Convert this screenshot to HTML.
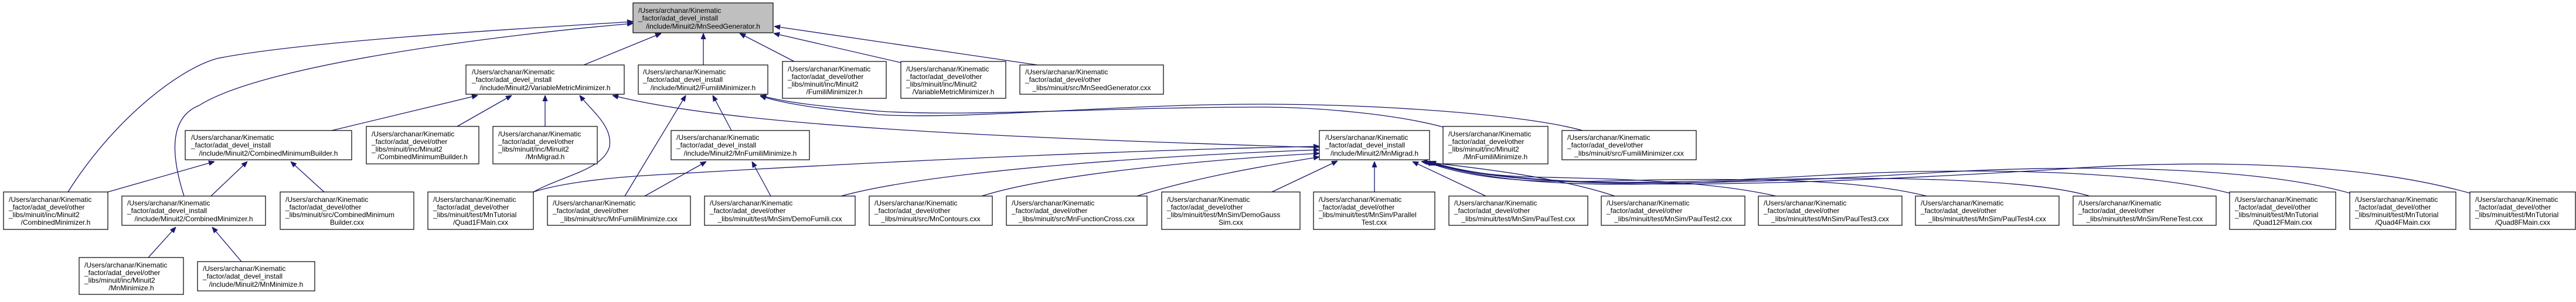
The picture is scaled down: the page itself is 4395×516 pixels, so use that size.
<!DOCTYPE html>
<html><head><meta charset="utf-8"><style>
html,body{margin:0;padding:0;background:#fff}
svg{display:block}
text{font-family:"Liberation Sans",Arial,sans-serif;font-size:12px;fill:#000}
.n{fill:#fff;stroke:#000;stroke-width:1.2}
.r{fill:#bfbfbf;stroke:#000;stroke-width:1.2}
.e{fill:none;stroke:#191970;stroke-width:1.3;marker-end:url(#a)}
</style></head><body>
<svg width="4395" height="516" viewBox="0 0 4395 516" xmlns="http://www.w3.org/2000/svg">
<defs><marker id="a" viewBox="0 0 10 10" refX="10" refY="5" markerWidth="10" markerHeight="10" markerUnits="userSpaceOnUse" orient="auto"><path d="M0,1 L10,5 L0,9 z" fill="#191970" stroke="#191970"/></marker></defs>

<!-- edges -->
<path class="e" d="M116,328 C190,210 300,120 370,100 C520,70 900,48 1080,37"/>
<path class="e" d="M314,335 C290,260 290,200 340,180 C450,110 850,60 1080,40"/>
<path class="e" d="M996,111 L1128,57"/>
<path class="e" d="M1200,111 L1200,57"/>
<path class="e" d="M1355,105 L1262,57"/>
<path class="e" d="M1537,107 L1320,57"/>
<path class="e" d="M1770,111 L1321,45"/>

<path class="e" d="M566,223 L815,163"/>
<path class="e" d="M780,216 L873,163"/>
<path class="e" d="M930,216 L930,163"/>
<path class="e" d="M910,328 C960,300 1030,290 1040,250 C1045,215 1010,190 989,163"/>
<path class="e" d="M2251,252 C1700,235 1250,215 1045,163"/>

<path class="e" d="M1248,223 L1216,163"/>
<path class="e" d="M1066,335 L1170,163"/>
<path class="e" d="M2462,217 C2380,195 2250,183 2150,183 C1900,183 1650,200 1500,190 C1400,182 1340,175 1297,163"/>
<path class="e" d="M2700,223 C2600,195 2350,178 2150,178 C1900,178 1650,205 1500,196 C1400,186 1340,178 1297,164"/>

<path class="e" d="M184,328 L366,276"/>
<path class="e" d="M360,335 L422,276"/>
<path class="e" d="M553,328 L496,276"/>
<path class="e" d="M253,440 L300,388"/>
<path class="e" d="M412,447 L362,388"/>
<path class="e" d="M1100,335 L1205,276"/>
<path class="e" d="M1315,335 L1283,276"/>

<path class="e" d="M910,328 C950,315 1020,305 1100,300 C1600,270 2000,255 2251,250"/>
<path class="e" d="M1435,335 C1600,290 2000,265 2251,256"/>
<path class="e" d="M1675,335 C1800,295 2100,270 2251,262"/>
<path class="e" d="M1940,335 C2050,300 2180,280 2251,268"/>
<path class="e" d="M2170,328 L2282,275"/>
<path class="e" d="M2345,328 L2345,276"/>
<path class="e" d="M2535,335 L2410,276"/>
<path class="e" d="M2755,335 C2650,300 2500,285 2425,276"/>
<path class="e" d="M3030,335 C2900,305 2700,305 2600,302 C2520,298 2470,288 2430,276"/>
<path class="e" d="M3287,335 C3150,300 2900,305 2700,310 C2560,312 2480,295 2432,276"/>
<path class="e" d="M3565,335 C3450,300 3100,300 2900,312 C2650,322 2520,305 2434,276"/>
<path class="e" d="M3804,330 C3650,290 3350,285 3100,300 C2800,318 2560,318 2436,276"/>
<path class="e" d="M4009,330 C3850,285 3550,280 3300,295 C2900,320 2580,322 2438,276"/>
<path class="e" d="M4214,330 C4000,270 3700,275 3500,290 C3000,320 2600,330 2440,276"/>

<!-- nodes -->
<g>
<rect class="r" x="1080" y="5" width="239" height="51"/>
<text x="1089" y="22">/Users/archanar/Kinematic</text><text x="1089" y="35">_factor/adat_devel_install</text><text x="1199.5" y="49" text-anchor="middle">/include/Minuit2/MnSeedGenerator.h</text>

<rect class="n" x="795" y="111" width="270" height="50"/>
<text x="805" y="127">/Users/archanar/Kinematic</text><text x="805" y="140">_factor/adat_devel_install</text><text x="930" y="154" text-anchor="middle">/include/Minuit2/VariableMetricMinimizer.h</text>

<rect class="n" x="1089" y="111" width="221" height="50"/>
<text x="1097" y="127">/Users/archanar/Kinematic</text><text x="1097" y="140">_factor/adat_devel_install</text><text x="1199.5" y="154" text-anchor="middle">/include/Minuit2/FumiliMinimizer.h</text>

<rect class="n" x="1335" y="105" width="177" height="63"/>
<text x="1344" y="122">/Users/archanar/Kinematic</text><text x="1344" y="135">_factor/adat_devel/other</text><text x="1344" y="148">_libs/minuit/inc/Minuit2</text><text x="1423.5" y="161" text-anchor="middle">/FumiliMinimizer.h</text>

<rect class="n" x="1537" y="105" width="179" height="63"/>
<text x="1546" y="122">/Users/archanar/Kinematic</text><text x="1546" y="135">_factor/adat_devel/other</text><text x="1546" y="148">_libs/minuit/inc/Minuit2</text><text x="1626.5" y="161" text-anchor="middle">/VariableMetricMinimizer.h</text>

<rect class="n" x="1740" y="111" width="245" height="50"/>
<text x="1749" y="127">/Users/archanar/Kinematic</text><text x="1749" y="140">_factor/adat_devel/other</text><text x="1862.5" y="154" text-anchor="middle">_libs/minuit/src/MnSeedGenerator.cxx</text>

<rect class="n" x="316" y="223" width="284" height="50"/>
<text x="326" y="239">/Users/archanar/Kinematic</text><text x="326" y="252">_factor/adat_devel_install</text><text x="458" y="266" text-anchor="middle">/include/Minuit2/CombinedMinimumBuilder.h</text>

<rect class="n" x="625" y="216" width="192" height="64"/>
<text x="634" y="233">/Users/archanar/Kinematic</text><text x="634" y="246">_factor/adat_devel/other</text><text x="634" y="259">_libs/minuit/inc/Minuit2</text><text x="721" y="272" text-anchor="middle">/CombinedMinimumBuilder.h</text>

<rect class="n" x="841" y="216" width="178" height="64"/>
<text x="850" y="233">/Users/archanar/Kinematic</text><text x="850" y="246">_factor/adat_devel/other</text><text x="850" y="259">_libs/minuit/inc/Minuit2</text><text x="930" y="272" text-anchor="middle">/MnMigrad.h</text>

<rect class="n" x="1145" y="223" width="236" height="50"/>
<text x="1154" y="239">/Users/archanar/Kinematic</text><text x="1154" y="252">_factor/adat_devel_install</text><text x="1263" y="266" text-anchor="middle">/include/Minuit2/MnFumiliMinimize.h</text>

<rect class="n" x="2251" y="223" width="188" height="50"/>
<text x="2261" y="239">/Users/archanar/Kinematic</text><text x="2261" y="252">_factor/adat_devel_install</text><text x="2345" y="266" text-anchor="middle">/include/Minuit2/MnMigrad.h</text>

<rect class="n" x="2462" y="216" width="179" height="64"/>
<text x="2471" y="233">/Users/archanar/Kinematic</text><text x="2471" y="246">_factor/adat_devel/other</text><text x="2471" y="259">_libs/minuit/inc/Minuit2</text><text x="2551.5" y="272" text-anchor="middle">/MnFumiliMinimize.h</text>

<rect class="n" x="2665" y="223" width="229" height="50"/>
<text x="2674" y="239">/Users/archanar/Kinematic</text><text x="2674" y="252">_factor/adat_devel/other</text><text x="2779.5" y="266" text-anchor="middle">_libs/minuit/src/FumiliMinimizer.cxx</text>

<rect class="n" x="6" y="328" width="178" height="64"/>
<text x="15" y="345">/Users/archanar/Kinematic</text><text x="15" y="358">_factor/adat_devel/other</text><text x="15" y="371">_libs/minuit/inc/Minuit2</text><text x="95" y="384" text-anchor="middle">/CombinedMinimizer.h</text>

<rect class="n" x="208" y="335" width="245" height="50"/>
<text x="217" y="351">/Users/archanar/Kinematic</text><text x="217" y="364">_factor/adat_devel_install</text><text x="330.5" y="378" text-anchor="middle">/include/Minuit2/CombinedMinimizer.h</text>

<rect class="n" x="478" y="328" width="228" height="64"/>
<text x="487" y="345">/Users/archanar/Kinematic</text><text x="487" y="358">_factor/adat_devel/other</text><text x="487" y="371">_libs/minuit/src/CombinedMinimum</text><text x="592" y="384" text-anchor="middle">Builder.cxx</text>

<rect class="n" x="730" y="328" width="180" height="64"/>
<text x="739" y="345">/Users/archanar/Kinematic</text><text x="739" y="358">_factor/adat_devel/other</text><text x="739" y="371">_libs/minuit/test/MnTutorial</text><text x="820" y="384" text-anchor="middle">/Quad1FMain.cxx</text>

<rect class="n" x="934" y="335" width="244" height="50"/>
<text x="943" y="351">/Users/archanar/Kinematic</text><text x="943" y="364">_factor/adat_devel/other</text><text x="1056" y="378" text-anchor="middle">_libs/minuit/src/MnFumiliMinimize.cxx</text>

<rect class="n" x="1202" y="335" width="257" height="50"/>
<text x="1211" y="351">/Users/archanar/Kinematic</text><text x="1211" y="364">_factor/adat_devel/other</text><text x="1330.5" y="378" text-anchor="middle">_libs/minuit/test/MnSim/DemoFumili.cxx</text>

<rect class="n" x="1483" y="335" width="210" height="50"/>
<text x="1492" y="351">/Users/archanar/Kinematic</text><text x="1492" y="364">_factor/adat_devel/other</text><text x="1588" y="378" text-anchor="middle">_libs/minuit/src/MnContours.cxx</text>

<rect class="n" x="1717" y="335" width="240" height="50"/>
<text x="1726" y="351">/Users/archanar/Kinematic</text><text x="1726" y="364">_factor/adat_devel/other</text><text x="1837" y="378" text-anchor="middle">_libs/minuit/src/MnFunctionCross.cxx</text>

<rect class="n" x="1982" y="328" width="236" height="64"/>
<text x="1991" y="345">/Users/archanar/Kinematic</text><text x="1991" y="358">_factor/adat_devel/other</text><text x="1991" y="371">_libs/minuit/test/MnSim/DemoGauss</text><text x="2100" y="384" text-anchor="middle">Sim.cxx</text>

<rect class="n" x="2241" y="328" width="207" height="64"/>
<text x="2250" y="345">/Users/archanar/Kinematic</text><text x="2250" y="358">_factor/adat_devel/other</text><text x="2250" y="371">_libs/minuit/test/MnSim/Parallel</text><text x="2344.5" y="384" text-anchor="middle">Test.cxx</text>

<rect class="n" x="2472" y="335" width="237" height="50"/>
<text x="2481" y="351">/Users/archanar/Kinematic</text><text x="2481" y="364">_factor/adat_devel/other</text><text x="2590.5" y="378" text-anchor="middle">_libs/minuit/test/MnSim/PaulTest.cxx</text>

<rect class="n" x="2732" y="335" width="245" height="50"/>
<text x="2741" y="351">/Users/archanar/Kinematic</text><text x="2741" y="364">_factor/adat_devel/other</text><text x="2854.5" y="378" text-anchor="middle">_libs/minuit/test/MnSim/PaulTest2.cxx</text>

<rect class="n" x="3000" y="335" width="245" height="50"/>
<text x="3009" y="351">/Users/archanar/Kinematic</text><text x="3009" y="364">_factor/adat_devel/other</text><text x="3122.5" y="378" text-anchor="middle">_libs/minuit/test/MnSim/PaulTest3.cxx</text>

<rect class="n" x="3268" y="335" width="245" height="50"/>
<text x="3277" y="351">/Users/archanar/Kinematic</text><text x="3277" y="364">_factor/adat_devel/other</text><text x="3390.5" y="378" text-anchor="middle">_libs/minuit/test/MnSim/PaulTest4.cxx</text>

<rect class="n" x="3537" y="335" width="244" height="50"/>
<text x="3546" y="351">/Users/archanar/Kinematic</text><text x="3546" y="364">_factor/adat_devel/other</text><text x="3659" y="378" text-anchor="middle">_libs/minuit/test/MnSim/ReneTest.cxx</text>

<rect class="n" x="3804" y="328" width="181" height="64"/>
<text x="3813" y="345">/Users/archanar/Kinematic</text><text x="3813" y="358">_factor/adat_devel/other</text><text x="3813" y="371">_libs/minuit/test/MnTutorial</text><text x="3894.5" y="384" text-anchor="middle">/Quad12FMain.cxx</text>

<rect class="n" x="4009" y="328" width="181" height="64"/>
<text x="4018" y="345">/Users/archanar/Kinematic</text><text x="4018" y="358">_factor/adat_devel/other</text><text x="4018" y="371">_libs/minuit/test/MnTutorial</text><text x="4099.5" y="384" text-anchor="middle">/Quad4FMain.cxx</text>

<rect class="n" x="4214" y="328" width="180" height="64"/>
<text x="4223" y="345">/Users/archanar/Kinematic</text><text x="4223" y="358">_factor/adat_devel/other</text><text x="4223" y="371">_libs/minuit/test/MnTutorial</text><text x="4304" y="384" text-anchor="middle">/Quad8FMain.cxx</text>

<rect class="n" x="135" y="440" width="178" height="63"/>
<text x="144" y="457">/Users/archanar/Kinematic</text><text x="144" y="470">_factor/adat_devel/other</text><text x="144" y="483">_libs/minuit/inc/Minuit2</text><text x="224" y="496" text-anchor="middle">/MnMinimize.h</text>

<rect class="n" x="337" y="447" width="200" height="50"/>
<text x="346" y="463">/Users/archanar/Kinematic</text><text x="346" y="476">_factor/adat_devel_install</text><text x="437" y="490" text-anchor="middle">/include/Minuit2/MnMinimize.h</text>
</g>
</svg>
</body></html>
